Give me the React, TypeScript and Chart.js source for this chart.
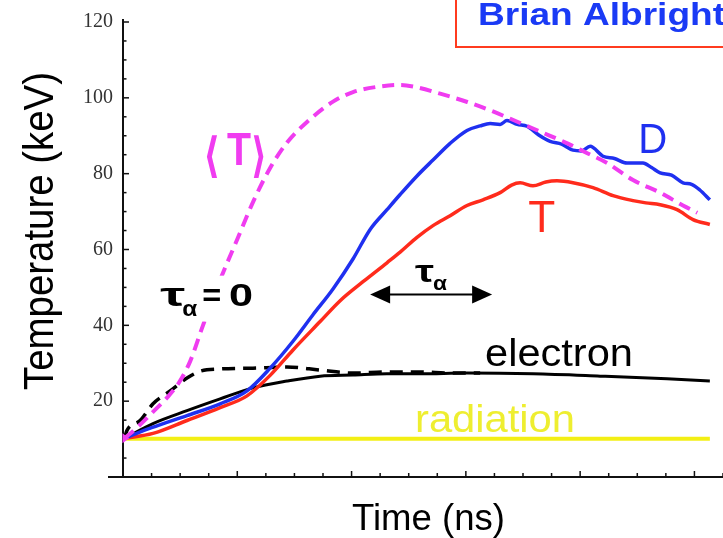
import { useEffect, useRef } from 'react';
import { Chart, registerables } from 'chart.js';

Chart.register(...registerables);

// ---------------- data (time in ns-units of the axis, temperature in keV) ----------------
const avgTTime = [0.05, 0.5, 1.0, 1.55, 1.95, 2.35, 2.8, 3.4, 4.0, 4.55, 5.15, 5.75, 6.45, 7.35, 8.05, 8.9, 9.7, 10.15, 11.1, 12.05, 12.95, 13.8, 14.6, 15.55, 16.25, 16.95, 17.85, 18.8, 19.6, 20.1];
const avgTTemp = [10.2, 13.1, 16.8, 21.0, 24.8, 30.5, 40.0, 52.0, 62.7, 72.5, 81.5, 88.3, 93.7, 99.0, 101.5, 102.9, 103.4, 103.0, 101.1, 98.9, 96.4, 93.7, 91.1, 88.0, 85.4, 82.8, 78.3, 75.0, 71.6, 69.7];

const dTime = [0.05, 1.0, 2.24, 3.4, 4.34, 5.15, 5.95, 6.65, 7.35, 8.05, 8.65, 9.24, 9.7, 10.29, 10.85, 11.45, 12.04, 12.5, 12.85, 13.2, 13.44, 13.8, 14.14, 14.55, 14.95, 15.35, 15.75, 16.05, 16.35, 16.8, 17.2, 17.64, 18.2, 18.5, 18.8, 19.2, 19.6, 19.9, 20.19, 20.54];
const dTemp = [10.2, 13.0, 16.2, 19.3, 22.7, 28.7, 35.8, 42.8, 49.6, 57.5, 65.3, 70.5, 74.5, 79.4, 83.6, 88.0, 91.4, 92.6, 93.2, 93.0, 94.0, 93.0, 92.5, 90.2, 88.5, 87.8, 86.2, 86.0, 87.2, 84.6, 84.0, 82.8, 82.8, 81.6, 80.2, 79.6, 77.6, 77.2, 75.7, 73.1];

const tTime = [0.05, 1.05, 2.24, 3.4, 4.34, 5.15, 5.95, 6.9, 7.6, 8.4, 9.24, 9.7, 10.29, 10.85, 11.45, 12.04, 12.6, 13.2, 13.6, 13.9, 14.35, 14.8, 15.19, 15.75, 16.45, 17.15, 17.85, 18.3, 18.8, 19.39, 19.95, 20.54];
const tTemp = [10.2, 11.5, 14.9, 18.3, 21.4, 26.8, 33.5, 41.0, 46.5, 51.5, 56.5, 59.3, 63.2, 66.3, 68.9, 71.6, 73.1, 75.0, 77.0, 77.6, 76.8, 77.8, 78.1, 77.6, 76.3, 74.2, 72.9, 72.3, 71.8, 70.5, 67.9, 66.6];

const eNoAlphaTime = [0.05, 0.14, 0.6, 1.05, 1.65, 2.24, 2.7, 3.4, 4.55, 5.74, 6.9, 8.05, 9.24, 10.4, 11.45, 12.5];
const eNoAlphaTemp = [10.2, 12.3, 14.9, 19.3, 22.7, 26.1, 27.9, 28.5, 28.7, 29.0, 28.2, 27.4, 27.7, 27.7, 27.4, 27.4];

const eTime = [0.05, 1.05, 2.24, 3.4, 4.55, 5.74, 6.9, 8.05, 9.24, 10.4, 12.04, 14.35, 16.7, 19.04, 20.54];
const eTemp = [10.2, 14.1, 17.5, 20.6, 23.5, 25.3, 26.6, 26.9, 27.2, 27.2, 27.4, 27.2, 26.6, 25.9, 25.3];

const radTime = [0.05, 20.54];
const radTemp = [10.1, 10.1];

const xRange = [0, 21];
const yRange = [0, 120];
const yLabelStep = 20;
const yMinorStep = 5;
const xMinorStep = 1;
const xMajorStep = 4;

const xTitle = 'Time (ns)';
const yTitle = 'Temperature (keV)';
const author = 'Brian Albright';

// ---------------- styling ----------------
const SANS = '"Liberation Sans", Arial, Helvetica, sans-serif';
const SYM = '"DejaVu Sans", "Noto Sans", sans-serif';
const MAGENTA = '#f03cf0';
const BLUE = '#1f30f0';
const RED = '#ff2b1c';
const YELLOW = '#f3ef14';
const BLACK = '#000000';

const pts = (xs: number[], ys: number[]) => xs.map((x, i) => ({ x, y: ys[i] }));

function seg(ctx: CanvasRenderingContext2D, x1: number, y1: number, x2: number, y2: number) {
  ctx.beginPath();
  ctx.moveTo(x1, y1);
  ctx.lineTo(x2, y2);
  ctx.stroke();
}

function label(
  ctx: CanvasRenderingContext2D,
  text: string,
  x: number,
  base: number,
  size: number,
  weight: string,
  color: string,
  width?: number,
  family: string = SANS,
) {
  ctx.save();
  ctx.font = `${weight} ${size}px ${family}`;
  const w = ctx.measureText(text).width;
  const sx = width ? width / w : 1;
  ctx.translate(x, base);
  ctx.scale(sx, 1);
  ctx.fillStyle = color;
  ctx.textAlign = 'left';
  ctx.textBaseline = 'alphabetic';
  ctx.fillText(text, 0, 0);
  ctx.restore();
}

const overlay = {
  id: 'overlay',
  beforeDraw(chart: any) {
    const c = chart.ctx;
    c.save();
    c.fillStyle = '#ffffff';
    c.fillRect(0, 0, chart.width, chart.height);
    c.restore();
  },
  afterDraw(chart: any) {
    const { ctx, chartArea: ca } = chart;
    const X = (v: number) => chart.scales.x.getPixelForValue(v);
    const Y = (v: number) => chart.scales.y.getPixelForValue(v);
    ctx.save();

    // axes with inward ticks
    ctx.strokeStyle = '#111';
    ctx.lineWidth = 2;
    seg(ctx, ca.left, ca.top - 3, ca.left, ca.bottom + 1);
    seg(ctx, ca.left - 15, ca.bottom, ca.right, ca.bottom);
    ctx.lineWidth = 1.5;
    for (let v = yMinorStep; v <= yRange[1]; v += yMinorStep) {
      const p = Y(v);
      seg(ctx, ca.left, p, ca.left + (v % yLabelStep === 0 ? 6 : 3.5), p);
    }
    for (let t = xMinorStep; t <= xRange[1]; t += xMinorStep) {
      const p = X(t);
      seg(ctx, p, ca.bottom, p, ca.bottom - (t % xMajorStep === 0 ? 6 : 4));
    }

    // start marker of <T>
    ctx.fillStyle = MAGENTA;
    const sx0 = X(avgTTime[0]), sy0 = Y(avgTTemp[0]);
    ctx.beginPath();
    ctx.moveTo(sx0 - 2, sy0 - 5); ctx.lineTo(sx0 + 5, sy0); ctx.lineTo(sx0 - 2, sy0 + 5); ctx.closePath(); ctx.fill();

    // axis titles
    ctx.save();
    ctx.translate(53, 390);
    ctx.rotate(-Math.PI / 2);
    label(ctx, yTitle, 0, 0, 43, 'normal', BLACK, 318);
    ctx.restore();
    label(ctx, xTitle, 352, 530, 37.5, 'normal', BLACK, 153);

    // author box
    ctx.strokeStyle = '#ff3b1f';
    ctx.lineWidth = 2;
    ctx.strokeRect(456, -10, 320, 57);
    label(ctx, author, 478, 25, 32, 'bold', '#1a3af5', 247);

    // <T>
    label(ctx, '\u27E8', X(2.80), Y(80.5), 48, 'bold', MAGENTA, 17, SYM);
    label(ctx, 'T', X(3.64), Y(82.4), 47, 'bold', MAGENTA, 24);
    label(ctx, '\u27E9', X(4.48), Y(80.5), 48, 'bold', MAGENTA, 16, SYM);

    // tau_alpha = 0 with white backing
    ctx.fillStyle = '#ffffff';
    ctx.fillRect(X(1.12), Y(53.1), X(4.73) - X(1.12), Y(41.0) - Y(53.1));
    label(ctx, '\u03C4', X(1.30), Y(45.0), 34, 'bold', BLACK, 25);
    label(ctx, '\u03B1', X(2.07), Y(42.4), 22, 'bold', BLACK, 15);
    label(ctx, '=', X(2.77), Y(45.0), 32, 'bold', BLACK, 19);
    label(ctx, '0', X(3.71), Y(45.0), 32, 'bold', BLACK, 24);

    // tau_alpha arrow
    const ax1 = X(8.65), ax2 = X(12.92), ay = Y(48.1);
    ctx.strokeStyle = BLACK;
    ctx.fillStyle = BLACK;
    ctx.lineWidth = 2;
    seg(ctx, ax1 + 15, ay, ax2 - 15, ay);
    ctx.beginPath();
    ctx.moveTo(ax1, ay); ctx.lineTo(ax1 + 20, ay - 9); ctx.lineTo(ax1 + 20, ay + 9); ctx.closePath(); ctx.fill();
    ctx.beginPath();
    ctx.moveTo(ax2, ay); ctx.lineTo(ax2 - 20, ay - 9); ctx.lineTo(ax2 - 20, ay + 9); ctx.closePath(); ctx.fill();
    label(ctx, '\u03C4', X(10.22), Y(51.5), 32, 'bold', BLACK, 19);
    label(ctx, '\u03B1', X(10.85), Y(49.4), 21, 'bold', BLACK, 14);

    // curve labels
    label(ctx, 'D', X(18.03), Y(85.5), 42, 'normal', BLUE, 29);
    label(ctx, 'T', X(14.18), Y(64.6), 44, 'normal', RED, 27);
    label(ctx, 'electron', X(12.67), Y(29.3), 38, 'normal', BLACK, 148);
    label(ctx, 'radiation', X(10.22), Y(11.8), 38, 'normal', '#eeee30', 160);

    ctx.restore();
  },
};

export default function App() {
  const ref = useRef<HTMLCanvasElement | null>(null);

  useEffect(() => {
    if (!ref.current) return;
    const chart = new Chart(ref.current, {
      type: 'line',
      data: {
        datasets: [
          { label: '<T>', data: pts(avgTTime, avgTTemp), borderColor: MAGENTA, borderWidth: 4, borderDash: [12, 7], pointRadius: 0, cubicInterpolationMode: 'monotone', fill: false },
          { label: 'D', data: pts(dTime, dTemp), borderColor: BLUE, borderWidth: 3.5, pointRadius: 0, cubicInterpolationMode: 'monotone', fill: false },
          { label: 'T', data: pts(tTime, tTemp), borderColor: RED, borderWidth: 3.5, pointRadius: 0, cubicInterpolationMode: 'monotone', fill: false },
          { label: 'electron', data: pts(eTime, eTemp), borderColor: BLACK, borderWidth: 3, pointRadius: 0, cubicInterpolationMode: 'monotone', fill: false },
          { label: 'electron (tau=0)', data: pts(eNoAlphaTime, eNoAlphaTemp), borderColor: BLACK, borderWidth: 3.5, borderDash: [13, 8], pointRadius: 0, cubicInterpolationMode: 'monotone', fill: false },
          { label: 'radiation', data: pts(radTime, radTemp), borderColor: YELLOW, borderWidth: 4, pointRadius: 0, fill: false },
        ],
      },
      options: {
        animation: false,
        responsive: false,
        maintainAspectRatio: false,
        layout: { padding: { top: 18, left: 0, right: 0, bottom: 0 } },
        plugins: { legend: { display: false }, tooltip: { enabled: false }, title: { display: false } },
        scales: {
          x: {
            type: 'linear',
            min: xRange[0],
            max: xRange[1],
            grid: { display: false, drawTicks: false },
            border: { display: false },
            ticks: { display: false },
            afterFit: (s: any) => { s.height = 61; },
          },
          y: {
            type: 'linear',
            min: yRange[0],
            max: yRange[1],
            grid: { display: false, drawTicks: false },
            border: { display: false },
            ticks: {
              stepSize: yLabelStep,
              padding: 10,
              color: '#333',
              font: { family: '"Liberation Serif", "Times New Roman", serif', size: 20 },
              callback: (v: any) => (Number(v) === 0 ? '' : String(v)),
            },
            afterFit: (s: any) => { s.width = 123; },
          },
        },
      },
      plugins: [overlay],
    } as any);
    return () => chart.destroy();
  }, []);

  return (
    <div style={{ position: 'fixed', left: 0, top: 0, width: 723, height: 538, background: '#fff' }}>
      <canvas ref={ref} width={723} height={538} style={{ display: 'block', width: 723, height: 538 }} />
    </div>
  );
}
